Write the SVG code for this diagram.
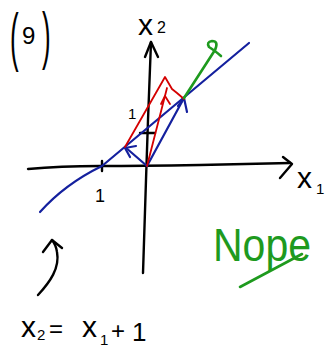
<svg xmlns="http://www.w3.org/2000/svg" width="328" height="354" viewBox="0 0 328 354">
<style>
.ink{fill:none;stroke-linecap:round;stroke-linejoin:round}
.k{stroke:#000;stroke-width:2.4}
.b{stroke:#14209e;stroke-width:2.2}
.r{stroke:#d40000;stroke-width:1.8}
.g{stroke:#1e9a1e;stroke-width:2.6}
.t{font-family:"Liberation Sans",Arial,sans-serif;fill:#000}
.tg{font-family:"Liberation Sans",Arial,sans-serif;fill:#1e9a1e}
</style>
<rect width="328" height="354" fill="#fff"/>
<g id="label-part">
<text class="t" transform="matrix(1,0,0,2.5,0,0)" x="10" y="23.5" font-size="26">(</text>
<text class="t" x="22" y="44" font-size="24">9</text>
<text class="t" transform="matrix(1,0,0,2.4,0,0)" x="42" y="23.6" font-size="26">)</text>
</g>
<g id="axes">
<path class="ink k" d="M28,169 Q60,166 100,166 T200,165 L290,163"/>
<path class="ink k" d="M283,157 L292,164 L280,178"/>
<path class="ink k" d="M151,42 L148,120 L146,180 L143,273"/>
<path class="ink k" d="M145,57 L151,42 L158,57"/>
<path class="ink k" d="M102,161 L102,171"/>
<path class="ink k" d="M140,133 L155,133"/>
<text class="t" x="138" y="35" font-size="30">x<tspan x="157" y="33" font-size="16">2</tspan></text>
<text class="t" x="297" y="188" font-size="30">x<tspan x="316" y="194" font-size="15">1</tspan></text>
<text class="t" x="95" y="202" font-size="18">1</text>
<text class="t" x="128" y="119" font-size="15">1</text>
</g>
<g id="connectors">
<path class="ink b" d="M40,212 Q65,184 102,166 L249,43"/>
<path class="ink b" d="M147,166 L125,147"/>
<path class="ink b" d="M136,146 L125,148 L130,157"/>
<path class="ink b" d="M147,166 L184,98"/>
<path class="ink b" d="M178,106 L184,98 L187,112"/>
<path class="ink r" d="M125,147 L165,77 L172,89 L177,93 L184,99"/>
<path class="ink r" d="M147,166 L167,88"/>
<path class="ink r" d="M161,104 L165,96 L170,104"/>
<path class="ink g" d="M184,98 L215,50"/>
<path class="ink g" d="M215,50 Q219,41 212,41 Q206,42 209,47 Q214,50 221,56"/>
<path class="ink k" d="M38,295 C50,282 60,268 57,252 Q56,245 52,240"/>
<path class="ink k" d="M43,252 L52,240 L62,248"/>
</g>
<g id="nope">
<text class="tg" x="213" y="261" font-size="46" textLength="98" lengthAdjust="spacingAndGlyphs">Nope</text>
<path class="ink g" d="M240,287 L302,254"/>
</g>
<g id="equation">
<text class="t" x="21" y="337" font-size="30">x<tspan x="37" y="340" font-size="15">2</tspan><tspan x="49" y="337" font-size="24">=</tspan><tspan x="82" y="337" font-size="30">x</tspan><tspan x="100" y="345" font-size="15">1</tspan><tspan x="111" y="339" font-size="24">+</tspan><tspan x="132" y="341" font-size="26">1</tspan></text>
</g>
</svg>
